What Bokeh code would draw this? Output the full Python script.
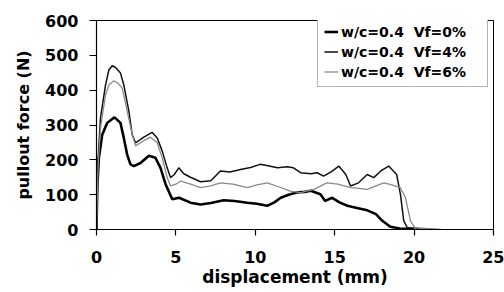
from bokeh.plotting import figure
from bokeh.models import Range1d, FixedTicker, Legend, LegendItem
from bokeh.embed import file_html
from bokeh.resources import INLINE

# ---- data ----
x_vf4 = [0, 0.1, 0.25, 0.57, 0.78, 0.99, 1.2, 1.51, 1.72, 2.04, 2.25, 2.46, 2.98, 3.5, 3.82,
         4.14, 4.45, 4.66, 4.9, 5.18, 5.5, 5.92, 6.55, 7.2, 7.8, 8.4, 9.07, 9.7, 10.3, 10.8,
         11.4, 12.0, 12.4, 12.85, 13.5, 13.9, 14.3, 14.8, 15.26, 15.7, 16.0, 16.5, 17.05,
         17.46, 17.9, 18.4, 18.9, 19.14, 19.35, 19.56, 19.8, 20.2, 20.8, 21.2]
y_vf4 = [0, 200, 320, 415, 458, 470, 465, 449, 415, 339, 272, 249, 265, 279, 263,
         225, 177, 149, 158, 177, 160, 150, 137, 140, 168, 165, 172, 178, 187, 183,
         177, 180, 177, 163, 160, 163, 153, 166, 182, 158, 125, 134, 158,
         149, 168, 182, 158, 101, 25, 6, 4, 3, 2, 0]

x_vf6 = [0, 0.1, 0.25, 0.57, 0.78, 1.09, 1.35, 1.62, 1.89, 2.25, 2.46, 2.98, 3.4, 3.82, 4.14,
         4.45, 4.66, 5.0, 5.3, 5.92, 6.55, 7.2, 7.8, 8.6, 9.5, 10.1, 10.75, 11.5, 12.2, 12.85,
         13.7, 14.5, 15.2, 16.0, 16.5, 17.05, 17.6, 18.1, 18.6, 19.14, 19.46, 19.77, 20.1,
         20.6, 21.3, 21.7]
y_vf6 = [0, 180, 291, 387, 415, 427, 420, 406, 349, 272, 240, 255, 265, 249, 206,
         149, 125, 130, 139, 130, 120, 125, 134, 130, 120, 128, 134, 122, 110, 106,
         115, 134, 130, 120, 118, 115, 125, 134, 128, 120, 91, 25, 1,
         3, 2, 0]

x_vf0 = [0, 0.05, 0.15, 0.36, 0.67, 1.13, 1.51, 1.72, 1.93, 2.14, 2.35, 2.77, 3.3, 3.71, 4.03,
         4.35, 4.77, 5.2, 5.92, 6.55, 7.2, 8.0, 8.7, 9.5, 10.1, 10.75, 11.2, 11.6, 12.1, 12.6,
         13.1, 13.5, 14.1, 14.4, 14.84, 15.3, 15.8, 16.4, 17.05, 17.6, 18.0, 18.5, 19.1,
         19.8, 20.5, 21.0]
y_vf0 = [0, 120, 206, 272, 306, 322, 306, 263, 215, 187, 182, 191, 212, 206, 177,
         130, 87, 91, 77, 72, 76, 84, 82, 77, 74, 68, 78, 91, 100, 106,
         108, 111, 101, 82, 91, 78, 68, 62, 55, 44, 25, 8, 3,
         2, 1, 0]

labels = ["w/c=0.4  Vf=0%", "w/c=0.4  Vf=4%", "w/c=0.4  Vf=6%"]
x_ticks = [0, 5, 10, 15, 20, 25]
y_ticks = [0, 100, 200, 300, 400, 500, 600]

FONT = "DejaVu Sans"

p = figure(width=504, height=292, output_backend="svg", toolbar_location=None,
           x_range=Range1d(0, 25), y_range=Range1d(0, 600),
           min_border_left=96, min_border_right=11, min_border_top=20, min_border_bottom=63)
p.background_fill_color = "white"
p.border_fill_color = "white"
p.outline_line_color = "black"
p.outline_line_width = 1
p.xgrid.visible = False
p.ygrid.visible = False

r0 = p.line(x_vf0, y_vf0, line_color="black", line_width=2.6)
r4 = p.line(x_vf4, y_vf4, line_color="#111111", line_width=1.5)
r6 = p.line(x_vf6, y_vf6, line_color="#8a8a8a", line_width=1.3)

for ax in (p.xaxis[0], p.yaxis[0]):
    ax.axis_line_color = "black"
    ax.axis_line_width = 1.2
    ax.major_tick_line_color = "black"
    ax.major_tick_line_width = 1.2
    ax.major_tick_in = 0
    ax.minor_tick_line_color = None
    ax.major_label_text_font = FONT
    ax.major_label_text_font_style = "bold"
    ax.major_label_text_font_size = "16px"
    ax.major_label_text_color = "black"
    ax.axis_label_text_font = FONT
    ax.axis_label_text_font_style = "bold"
    ax.axis_label_text_color = "black"

p.xaxis.ticker = FixedTicker(ticks=x_ticks)
p.yaxis.ticker = FixedTicker(ticks=y_ticks)
p.xaxis.major_tick_out = 6
p.yaxis.major_tick_out = 7
p.xaxis.major_label_standoff = 15
p.yaxis.major_label_standoff = 11
p.xaxis.axis_label = "displacement (mm)"
p.yaxis.axis_label = "pullout force (N)"
p.xaxis.axis_label_text_font_size = "17px"
p.yaxis.axis_label_text_font_size = "16px"
p.xaxis.axis_label_standoff = 1
p.yaxis.axis_label_standoff = 9

legend = Legend(items=[LegendItem(label=labels[0], renderers=[r0]),
                       LegendItem(label=labels[1], renderers=[r4]),
                       LegendItem(label=labels[2], renderers=[r6])],
                location=(221, 142))
legend.label_text_font = FONT
legend.label_text_font_style = "bold"
legend.label_text_font_size = "14px"
legend.label_text_color = "black"
legend.glyph_width = 14
legend.glyph_height = 17
legend.label_height = 17
legend.label_width = 140
legend.label_standoff = 3
legend.spacing = 3
legend.padding = 6
legend.margin = 0
legend.border_line_color = "#666666"
legend.border_line_width = 1
legend.background_fill_color = "white"
legend.background_fill_alpha = 1
p.add_layout(legend, "center")

open("out.html", "w").write(file_html(p, INLINE))
